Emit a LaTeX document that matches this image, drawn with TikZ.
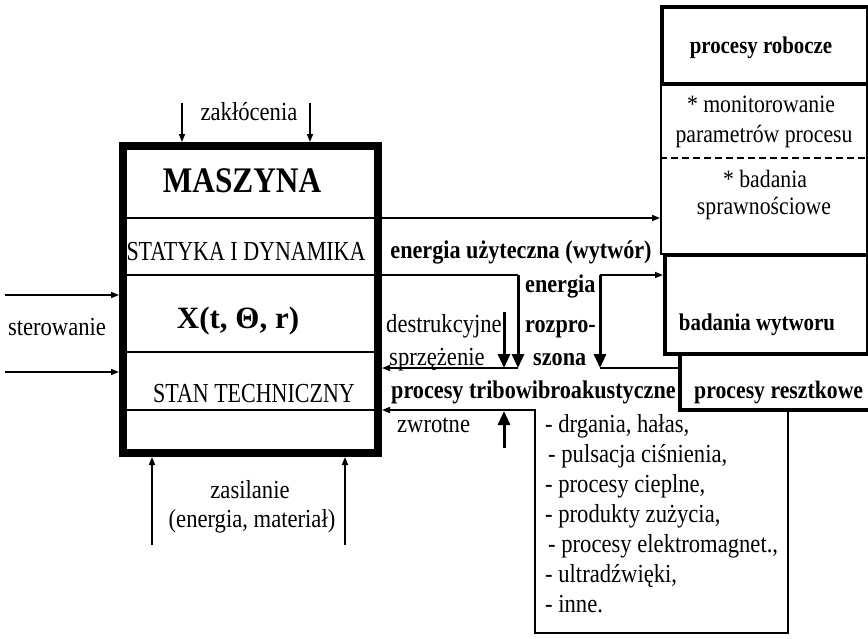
\documentclass[tikz,border=0pt]{standalone}
\usepackage{fontspec}
\setmainfont{Liberation Serif}
\newfontfamily\narrowserif{Liberation Serif}[FakeStretch=0.87]
\newfontfamily\tightserif{Liberation Serif}[FakeStretch=0.8]
\usetikzlibrary{arrows.meta}

\begin{document}
\begin{tikzpicture}[x=1pt,y=-1pt,
  lab/.style={inner sep=0pt, font=\narrowserif\fontsize{26}{28}\selectfont},
  blab/.style={inner sep=0pt, font=\narrowserif\bfseries\fontsize{25.5}{28}\selectfont},
  collab/.style={inner sep=0pt, font=\narrowserif\fontsize{25}{27}\selectfont},
  colblab/.style={inner sep=0pt, font=\narrowserif\bfseries\fontsize{24}{26}\selectfont},
  rowlab/.style={inner sep=0pt, font=\tightserif\fontsize{27.5}{29}\selectfont},
  thinline/.style={line width=1.6pt},
  boldline/.style={line width=3pt},
  smalltip/.style={-{Triangle[length=8pt,width=6pt]}},
  bigtip/.style={-{Triangle[length=14pt,width=12pt]}},
  block/.style={draw, inner sep=0pt, anchor=north west},
]
\useasboundingbox (0,0) rectangle (868,638);

% ---- the machine block ----
\node[block, line width=8pt, minimum width=255pt, minimum height=307pt] (mach) at (119,142) {};
\foreach \yy in {218,275,352,410}
  \draw[line width=2pt] (mach.west |- 0,\yy) -- (mach.east |- 0,\yy);

\node[inner sep=0pt, anchor=base, font=\narrowserif\bfseries\fontsize{36}{38}\selectfont] (tmasz) at (242,192) {MASZYNA};
\node[rowlab, anchor=base] (tstat) at (246,260) {STATYKA I DYNAMIKA};
\node[inner sep=0pt, anchor=base, font=\bfseries\fontsize{31}{33}\selectfont] (tx) at (238,328) {X(t, Θ, r)};
\node[rowlab, anchor=base] (tstan) at (254,402) {STAN TECHNICZNY};

% ---- right-hand column ----
\node[block, line width=4pt, minimum width=206pt, minimum height=77pt] (robo) at (660,5) {};
\node[block, line width=1.6pt, minimum width=206pt, minimum height=171pt] (mon) at (660,82) {};
\node[block, line width=4pt, minimum width=203pt, minimum height=99pt] (bad) at (663,253) {};
\node[block, line width=3.5pt, minimum width=210pt, minimum height=56pt] (resz) at (678,352) {};
\draw[line width=1.2pt, dash pattern=on 7pt off 4pt] (mon.west |- 0,158) -- (mon.east |- 0,158);

\node[colblab, anchor=base] (trobo) at (761,53) {procesy robocze};
\node[collab, anchor=base] (tmon1) at (761,112) {* monitorowanie};
\node[collab, anchor=base] (tmon2) at (764,142) {parametrów procesu};
\node[collab, anchor=base] (tspr1) at (765,187) {* badania};
\node[collab, anchor=base] (tspr2) at (764,214) {sprawnościowe};
\node[colblab, anchor=base] (tbad) at (757,330) {badania wytworu};
\node[blab, anchor=base west, font=\narrowserif\bfseries\fontsize{25}{28}\selectfont] (tresz) at (694,398) {procesy resztkowe};

% ---- inputs ----
\coordinate (zk1) at (182,103);
\coordinate (zk2) at (310,103);
\draw[thinline, smalltip] (zk1) -- (mach.north -| zk1);
\draw[thinline, smalltip] (zk2) -- (mach.north -| zk2);
\node[lab, anchor=base] (tzak) at (249,120) {zakłócenia};

\coordinate (st1) at (5,295);
\coordinate (st2) at (5,372);
\draw[thinline, smalltip] (st1) -- (mach.west |- st1);
\draw[thinline, smalltip] (st2) -- (mach.west |- st2);
\node[lab, anchor=base] (tster) at (57,335) {sterowanie};

\coordinate (zs1) at (152,545);
\coordinate (zs2) at (345,545);
\draw[thinline, smalltip] (zs1) -- (mach.south -| zs1);
\draw[thinline, smalltip] (zs2) -- (mach.south -| zs2);
\node[lab, anchor=base] (tzas1) at (250,498) {zasilanie};
\node[lab, anchor=base] (tzas2) at (252,527) {(energia, materiał)};

% ---- energy flows ----
\coordinate (yU) at (0,218);
\coordinate (yR) at (0,275);
\coordinate (yS) at (0,368);
\coordinate (yT) at (0,410);
\coordinate (dR) at (518,275);
\coordinate (dRe) at (518,368);
\coordinate (rT) at (600,275);
\coordinate (rE) at (600,368);
\coordinate (dsT) at (504,312);
\coordinate (dsE) at (504,368);
\coordinate (zwB) at (504,448);
\coordinate (zwT) at (504,411);
\coordinate (lbR) at (788,633);
\coordinate (lbL) at (535,633);
\coordinate (lbT) at (535,410);

\draw[thinline, smalltip] (mach.east |- yU) -- (mon.west |- yU);
\draw[thinline] (mach.east |- yR) -- (dR);
\draw[boldline, bigtip] (dR) -- (dRe);
\draw[thinline, smalltip] (rT) -- (bad.west |- rT);
\draw[boldline, bigtip] (rT) -- (rE);
\draw[thinline] (rE) -- (resz.west |- rE);
\draw[thinline, smalltip] (dRe) -- (mach.east |- yS);
\draw[boldline, bigtip] (dsT) -- (dsE);
\draw[boldline, bigtip] (zwB) -- (zwT);
\draw[thinline, smalltip] (resz.south -| lbR) -- (lbR) -- (lbL) -- (lbT) -- (mach.east |- lbT);

\node[blab, anchor=base] (tuzyt) at (521,258) {energia użyteczna (wytwór)};
\node[blab, anchor=base west] (ten) at (525,292) {energia};
\node[blab, anchor=base west] (troz) at (525,332) {rozpro-};
\node[blab, anchor=base west] (tszo) at (533,365) {szona};
\node[lab, anchor=base west] (tdes) at (386,332) {destrukcyjne};
\node[lab, anchor=base west] (tsprz) at (389,365) {sprzężenie};
\node[lab, anchor=base west] (tzwr) at (397,432) {zwrotne};
\node[blab, anchor=base west] (ttrib) at (391,398) {procesy tribowibroakustyczne};

% ---- list of residual phenomena ----
\node[lab, anchor=base west] (l1) at (545,432) {- drgania, hałas,};
\node[lab, anchor=base west] (l2) at (548,462) {- pulsacja ciśnienia,};
\node[lab, anchor=base west] (l3) at (545,492) {- procesy cieplne,};
\node[lab, anchor=base west] (l4) at (545,522) {- produkty zużycia,};
\node[lab, anchor=base west] (l5) at (548,552) {- procesy elektromagnet.,};
\node[lab, anchor=base west] (l6) at (545,582) {- ultradźwięki,};
\node[lab, anchor=base west] (l7) at (545,612) {- inne.};
\end{tikzpicture}
\end{document}
